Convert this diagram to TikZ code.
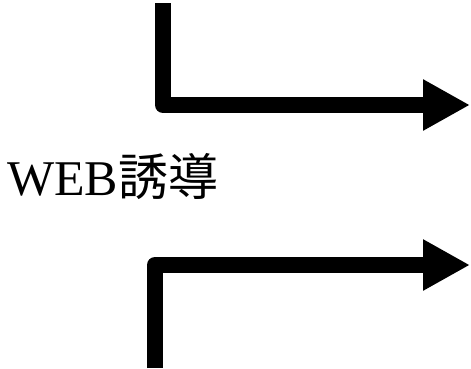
\documentclass[tikz,border=0pt]{standalone}
\usepackage{fontspec}
\setmainfont{Liberation Serif}
\newfontfamily\cjk{Noto Sans CJK JP}
\usetikzlibrary{arrows.meta}
\tikzset{
  bentarrow/.style={line width=16pt, line join=round, -{Triangle[length=47pt,width=48pt]}},
}
\begin{document}
\begin{tikzpicture}[x=1pt,y=1pt,yscale=-1,xscale=1]
\useasboundingbox (0,0) rectangle (471,368);

%Coordinates of the upper arrow
\coordinate (upstart) at (163,3);
\coordinate (upbend) at (163,105);
\coordinate (uptip) at (470,105);
%Coordinates of the lower arrow
\coordinate (lowstart) at (155,368);
\coordinate (lowbend) at (155,265);
\coordinate (lowtip) at (470,265);

%Bent Arrows
\draw [bentarrow] (upstart) -- (upbend) -- (uptip) ;
\draw [bentarrow] (lowstart) -- (lowbend) -- (lowtip) ;

% Text Node
\node (label) at (7,195) [anchor=base west][inner sep=0pt] [font=\fontsize{50}{60}\selectfont] {WEB{\cjk 誘導}};
\end{tikzpicture}
\end{document}
